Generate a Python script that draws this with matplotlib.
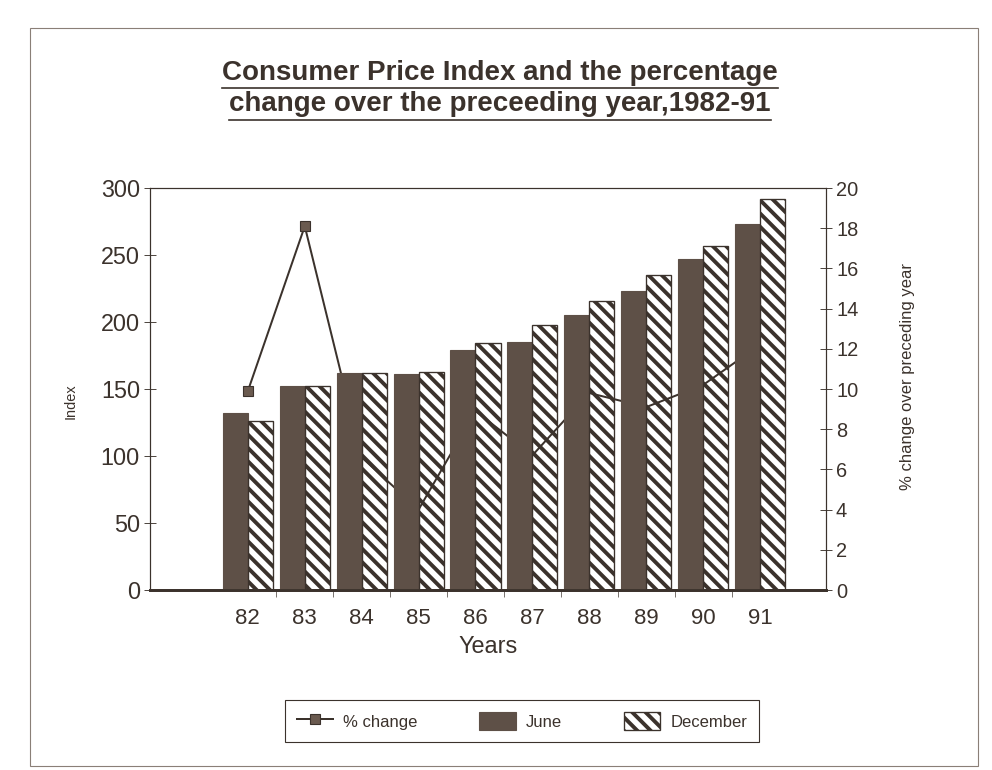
import numpy as np
import matplotlib
matplotlib.use('Agg')
import matplotlib.pyplot as plt
from matplotlib.lines import Line2D
from matplotlib.patches import Rectangle

# data
years = ['82', '83', '84', '85', '86', '87', '88', '89', '90', '91']
june = [132, 152, 162, 161, 179, 185, 205, 223, 247, 273]
december = [126, 152, 162, 163, 184, 198, 216, 235, 257, 292]
pct_change = [9.9, 18.1, 6.6, 4.0, 8.9, 6.7, 9.8, 9.1, 10.2, 12.2]

ink = '#3b322c'
bar_col = '#5e5047'

plt.rcParams['font.family'] = ['Liberation Sans', 'DejaVu Sans']
plt.rcParams['hatch.linewidth'] = 3.5
plt.rcParams['text.color'] = ink
plt.rcParams['axes.labelcolor'] = ink
plt.rcParams['xtick.color'] = ink
plt.rcParams['ytick.color'] = ink
plt.rcParams['axes.edgecolor'] = ink

W, H = 992, 770
fig = plt.figure(figsize=(W / 80, H / 80), dpi=80)
fig.patch.set_facecolor('white')

# outer chart border
fig.add_artist(Rectangle((30 / W, 1 - 766 / H), 948 / W, 738 / H, transform=fig.transFigure,
                         fill=False, edgecolor='#8a7f77', lw=1))

ax = fig.add_axes([150 / W, 1 - 590 / H, 676 / W, 402 / H])
ax2 = ax.twinx()
ax.set_zorder(ax2.get_zorder() + 1)
ax.patch.set_visible(False)

x = np.arange(len(years))
line, = ax2.plot(x, pct_change, color=ink, lw=1.8, marker='s', ms=9, markevery=[0, 1],
                 mfc='#6a5a4f', mec=ink, label='% change')
b1 = ax.bar(x - 0.22, june, 0.44, color=bar_col, edgecolor=bar_col, label='June')
b2 = ax.bar(x + 0.22, december, 0.44, facecolor='none', edgecolor=ink,
            hatch='\\\\', lw=1.2, label='December')

ax.set_xlim(-1.72, 10.16)
ax.set_ylim(0, 300)
ax2.set_ylim(0, 20)

ax.set_xticks(x, years, fontsize=20)
ax.set_xticks(x[:-1] + 0.5, minor=True)
ax.tick_params(axis='x', which='major', length=0, pad=16)
ax.tick_params(axis='x', which='minor', length=6, direction='out')
ax.set_yticks(np.arange(0, 301, 50))
ax.tick_params(axis='y', labelsize=21, direction='inout', length=10, pad=4)
ax2.set_yticks(np.arange(0, 21, 2))
ax2.tick_params(axis='y', labelsize=18, direction='inout', length=10, pad=4)

for a in (ax, ax2):
    for s in a.spines.values():
        s.set_linewidth(1)
        s.set_color(ink)
    a.spines['bottom'].set_linewidth(2.5)

ax.set_xlabel('Years', fontsize=21, labelpad=6)
ax.set_ylabel('Index', fontsize=13)
ax.yaxis.set_label_coords(-0.107, 0.47)
ax2.set_ylabel('% change over preceding year', fontsize=15, rotation=90)
ax2.yaxis.set_label_coords(1.109, 0.53)

fig.legend(handles=[line, b1, b2], labels=['% change', 'June', 'December'],
           loc='center', bbox_to_anchor=(522 / W, 1 - 721 / H), ncol=3,
           frameon=True, fancybox=False, edgecolor=ink, framealpha=1,
           fontsize=15, handlelength=2.2, handleheight=1.3, handletextpad=0.6,
           columnspacing=3.7, borderpad=0.7)

# underlined two-line title
t1 = fig.text(0.504, 1 - 80 / H, 'Consumer Price Index and the percentage',
              ha='center', va='baseline', fontsize=25, fontweight='bold')
t2 = fig.text(0.504, 1 - 111 / H, 'change over the preceeding year,1982-91',
              ha='center', va='baseline', fontsize=25, fontweight='bold')
fig.canvas.draw()
r = fig.canvas.get_renderer()
for t, yy in ((t1, 88), (t2, 120)):
    bb = t.get_window_extent(r)
    fig.add_artist(Line2D([bb.x0 / W, bb.x1 / W], [1 - yy / H, 1 - yy / H],
                          transform=fig.transFigure, color=ink, lw=1.5))

fig.savefig('out.png', dpi=80)
